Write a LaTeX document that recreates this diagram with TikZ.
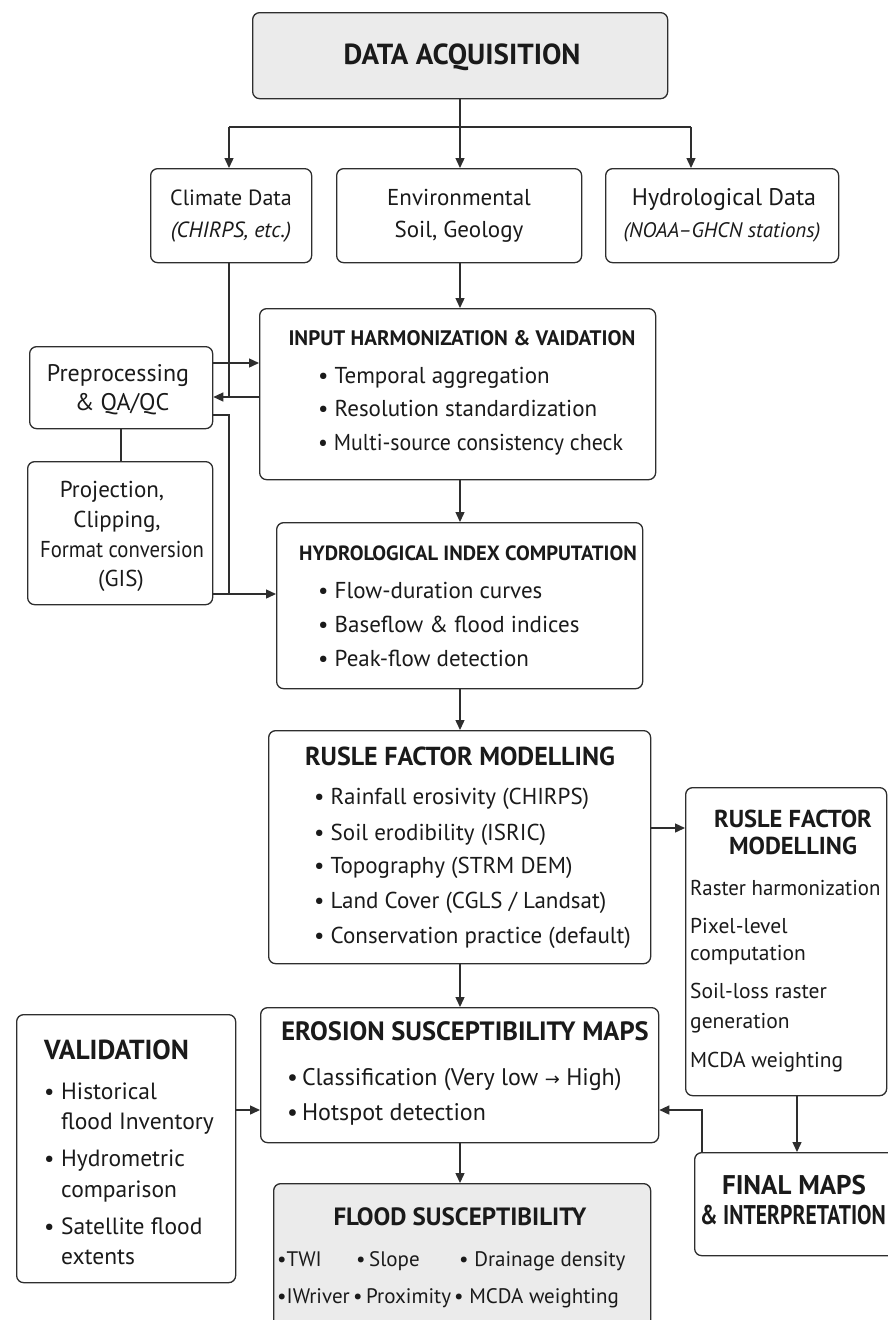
\documentclass[tikz,border=0pt]{standalone}
\usepackage{fontspec}
\setmainfont{PT Sans}
\newfontfamily\djv{DejaVu Sans}
\usetikzlibrary{arrows.meta}
\definecolor{lncol}{HTML}{2E2E2E}
\definecolor{fillg}{HTML}{EBEBEB}
\definecolor{txtcol}{HTML}{1A1A1A}
\newcommand{\fs}[1]{\fontsize{#1}{#1}\selectfont}
\begin{document}
\begin{tikzpicture}[x=1pt,y=-1pt,
 box/.style={draw=lncol, line width=1.3pt, rounded corners=7pt, inner sep=0pt, anchor=north west, fill=white},
 gbox/.style={box, fill=fillg},
 arr/.style={draw=lncol, line width=1.4pt, -{Triangle[length=10pt,width=9pt]}},
 conn/.style={draw=lncol, line width=1.4pt},
 body/.style={inner sep=0pt, text=txtcol, font=\fs{23}, text height=16pt, text depth=5pt},
 sbody/.style={body, font=\fs{21.5}},
 ttl/.style={inner sep=0pt, text=txtcol, text height=18pt, text depth=3pt},
]
\useasboundingbox (0,0) rectangle (888,1320);
\clip (0,0) rectangle (888,1320);
\fill[white] (0,0) rectangle (888,1320);

% ---------- boxes ----------
\node[gbox, minimum width=415pt, minimum height=86pt] (da) at (252,12) {};
\node[box, minimum width=161pt, minimum height=94pt] (clim) at (150,168) {};
\node[box, minimum width=245pt, minimum height=94pt] (env) at (336,168) {};
\node[box, minimum width=233pt, minimum height=94pt] (hyd) at (605,168) {};
\node[box, minimum width=396pt, minimum height=171pt] (inp) at (259,308) {};
\node[box, minimum width=183pt, minimum height=82pt] (pre) at (29,346) {};
\node[box, minimum width=185pt, minimum height=143pt] (proj) at (27,461) {};
\node[box, minimum width=366pt, minimum height=166pt] (hix) at (276,522) {};
\node[box, minimum width=382pt, minimum height=233pt] (rus) at (268,730) {};
\node[box, minimum width=201pt, minimum height=308pt] (rus2) at (685,787) {};
\node[box, minimum width=398pt, minimum height=135pt] (ero) at (260,1007) {};
\node[box, minimum width=219pt, minimum height=268pt] (val) at (16,1014) {};
\node[box, minimum width=210pt, minimum height=103pt] (fin) at (694,1152) {};
\node[gbox, minimum width=377pt, minimum height=150pt] (fld) at (273,1183) {};

% ---------- coordinates ----------
\coordinate (ybr) at (0,127);
\coordinate (y363) at (0,363);
\coordinate (y397) at (0,397);
\coordinate (y415) at (0,415);
\coordinate (y594) at (0,594);
\coordinate (y828) at (0,828);
\coordinate (y1110) at (0,1110);
\coordinate (x229) at (229,0);
\coordinate (x460) at (460,0);
\coordinate (x691) at (691,0);
\coordinate (x121) at (121,0);
\coordinate (x797) at (797,0);
\coordinate (x702) at (702,0);
\coordinate (cj) at (229,397);
\coordinate (pj) at (229,415);
\coordinate (qj) at (229,594);
\coordinate (fj) at (702,1110);

% ---------- connectors ----------
\draw[conn] (da.south -| x460) -- (ybr -| x460);
\draw[conn] (ybr -| x229) -- (ybr -| x691);
\draw[arr] (ybr -| x229) -- (clim.north -| x229);
\draw[arr] (ybr -| x460) -- (env.north -| x460);
\draw[arr] (ybr -| x691) -- (hyd.north -| x691);
\draw[arr] (env.south -| x460) -- (inp.north -| x460);
\draw[conn] (clim.south -| x229) -- (cj);
\draw[arr] (inp.west |- y397) -- (pre.east |- y397);
\draw[arr] (pre.east |- y363) -- (inp.west |- y363);
\draw[conn] (pre.east |- y415) -- (pj) -- (qj);
\draw[arr] (proj.east |- y594) -- (hix.west |- y594);
\draw[conn] (pre.south -| x121) -- (proj.north -| x121);
\draw[arr] (inp.south -| x460) -- (hix.north -| x460);
\draw[arr] (hix.south -| x460) -- (rus.north -| x460);
\draw[arr] (rus.east |- y828) -- (rus2.west |- y828);
\draw[arr] (rus.south -| x460) -- (ero.north -| x460);
\draw[arr] (val.east |- y1110) -- (ero.west |- y1110);
\draw[arr] (rus2.south -| x797) -- (fin.north -| x797);
\draw[arr] (fin.north -| x702) -- (fj) -- (ero.east |- y1110);
\draw[arr] (ero.south -| x460) -- (fld.north -| x460);

% ---------- texts ----------
\node[ttl, font=\fs{29}\bfseries, text height=21pt] (tda) at (462,55) {DATA ACQUISITION};

\node[body, font=\fs{22}] (tc1) at (231,200) {Climate Data};
\node[body, font=\fs{22}] (tc2) at (231,232) {\itshape (CHIRPS, etc.)};
\node[body] (te1) at (459,200) {Environmental};
\node[body] (te2) at (459,232) {Soil, Geology};
\node[body, font=\fs{24}] (th1) at (724,200) {Hydrological Data};
\node[body, font=\fs{21}\itshape] (th2) at (722,232) {(NOAA–GHCN stations)};

\node[ttl, font=\fs{21}\bfseries] (tin) at (462,338) {INPUT HARMONIZATION \& VAIDATION};
\node[body, anchor=west] (ti1) at (318,378) {•\ Temporal aggregation};
\node[body, anchor=west] (ti2) at (318,411) {•\ Resolution standardization};
\node[body, anchor=west] (ti3) at (318,445) {\scalebox{0.95}[1]{•\ Multi-source consistency check}};

\node[body, font=\fs{24}] (tp1) at (118,376) {Preprocessing};
\node[body, font=\fs{24}] (tp2) at (122,405) {\& QA/QC};

\node[body] (tq1) at (112,492) {Projection,};
\node[body] (tq2) at (117,522) {Clipping,};
\node[body] (tq3) at (122,552) {\scalebox{0.9}[1]{Format conversion}};
\node[body] (tq4) at (121,581) {(GIS)};

\node[ttl, font=\fs{20.6}\bfseries] (thx) at (468,553) {HYDROLOGICAL INDEX COMPUTATION};
\node[body, anchor=west] (tx1) at (318,593) {•\ Flow-duration curves};
\node[body, anchor=west] (tx2) at (318,627) {•\ Baseflow \& flood indices};
\node[body, anchor=west] (tx3) at (318,661) {•\ Peak-flow detection};

\node[ttl, font=\fs{26}\bfseries] (trs) at (460,758) {RUSLE FACTOR MODELLING};
\node[body, anchor=west] (tr1) at (314,799) {•\ Rainfall erosivity (CHIRPS)};
\node[body, anchor=west] (tr2) at (314,835) {•\ Soil erodibility (ISRIC)};
\node[body, anchor=west] (tr3) at (314,868) {•\ Topography (STRM DEM)};
\node[body, anchor=west] (tr4) at (314,903) {•\ Land Cover (CGLS / Landsat)};
\node[body, anchor=west] (tr5) at (314,938) {•\ Conservation practice (default)};

\node[ttl, font=\fs{24.5}\bfseries] (tz1) at (793,820) {RUSLE FACTOR};
\node[ttl, font=\fs{24.5}\bfseries] (tz2) at (793,847) {MODELLING};
\node[sbody, anchor=west] (tz3) at (690,890) {\scalebox{0.97}[1]{Raster harmonization}};
\node[sbody, anchor=west] (tz4) at (690,928) {Pixel-level};
\node[sbody, anchor=west] (tz5) at (690,955) {computation};
\node[sbody, anchor=west] (tz6) at (690,993) {Soil-loss raster};
\node[sbody, anchor=west] (tz7) at (690,1023) {generation};
\node[sbody, anchor=west] (tz8) at (690,1062) {MCDA weighting};

\node[ttl, font=\fs{26.5}\bfseries] (ter) at (465,1033) {EROSION SUSCEPTIBILITY MAPS};
\node[body, anchor=west, font=\fs{24}] (te3) at (287,1080) {•\,Classification (Very low {\djv\fs{18}→} High)};
\node[body, anchor=west, font=\fs{24}] (te4) at (287,1115) {•\,Hotspot detection};

\node[ttl, font=\fs{27.5}\bfseries, anchor=west] (tva) at (44,1052) {VALIDATION};
\node[body, anchor=west] (tv1) at (44,1094) {•};
\node[body, anchor=west, font=\fs{23.5}] (tv2) at (61,1094) {Historical};
\node[body, anchor=west, font=\fs{23.5}] (tv3) at (61,1124) {flood Inventory};
\node[body, anchor=west] (tv4) at (44,1161) {•};
\node[body, anchor=west, font=\fs{23.5}] (tv5) at (61,1161) {Hydrometric};
\node[body, anchor=west, font=\fs{23.5}] (tv6) at (61,1192) {comparison};
\node[body, anchor=west] (tv7) at (44,1229) {•};
\node[body, anchor=west, font=\fs{23.5}] (tv8) at (61,1229) {Satellite flood};
\node[body, anchor=west, font=\fs{23.5}] (tv9) at (61,1259) {extents};

\node[ttl, font=\fs{27}\bfseries] (tf1) at (794,1187) {FINAL MAPS};
\node[ttl, font=\fs{27}\bfseries, anchor=west] (tf2) at (700,1217) {\scalebox{0.8}[1]{\& INTERPRETATION}};

\node[ttl, font=\fs{25}\bfseries] (tfl) at (460,1218) {FLOOD SUSCEPTIBILITY};
\node[sbody, anchor=west, font=\fs{21}] (tl1) at (277,1261) {•TWI};
\node[sbody, anchor=west, font=\fs{21}] (tl2) at (356,1261) {•\,Slope};
\node[sbody, anchor=west, font=\fs{21}] (tl3) at (459,1261) {•\ Drainage density};
\node[sbody, anchor=west, font=\fs{21}] (tl4) at (277,1298) {•IWriver};
\node[sbody, anchor=west, font=\fs{21}] (tl5) at (353,1298) {•\,Proximity};
\node[sbody, anchor=west, font=\fs{21}] (tl6) at (454,1298) {•\ MCDA weighting};
\end{tikzpicture}
\end{document}
